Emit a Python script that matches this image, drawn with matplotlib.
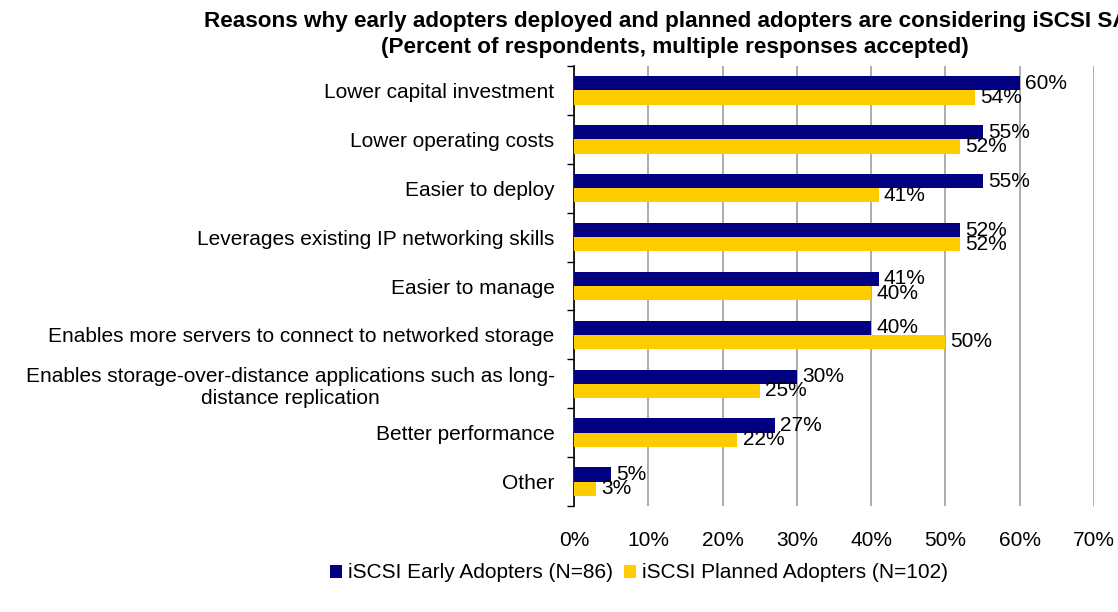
import matplotlib
matplotlib.use("Agg")
import matplotlib.pyplot as plt
import numpy as np
from matplotlib.patches import Patch

categories = [
    "Lower capital investment",
    "Lower operating costs",
    "Easier to deploy",
    "Leverages existing IP networking skills",
    "Easier to manage",
    "Enables more servers to connect to networked storage",
    "Enables storage-over-distance applications such as long-\ndistance replication",
    "Better performance",
    "Other",
]
early = [60, 55, 55, 52, 41, 40, 30, 27, 5]
planned = [54, 52, 41, 52, 40, 50, 25, 22, 3]
series_names = ["iSCSI Early Adopters (N=86)", "iSCSI Planned Adopters (N=102)"]
xticks = [0, 10, 20, 30, 40, 50, 60, 70]

NAVY = "#000080"
GOLD = "#FFCC00"
FS = 15

plt.rcParams["font.family"] = ["Liberation Sans", "DejaVu Sans"]

fig = plt.figure(figsize=(11.18, 6.12), dpi=100)
W, H = 1118, 612
ax = fig.add_axes([574 / W, 1 - 506 / H, (1094 - 574) / W, (506 - 66) / H])

y = np.arange(len(categories))
bh = 0.29
ax.barh(y - bh / 2, early, height=bh, color=NAVY, zorder=3)
ax.barh(y + bh / 2, planned, height=bh, color=GOLD, zorder=3)

# value labels just past the end of each bar
for i in range(len(categories)):
    ax.text(early[i] + 0.7, y[i] - bh / 2, f"{early[i]}%", va="center", ha="left",
            fontsize=FS, zorder=4)
    ax.text(planned[i] + 0.7, y[i] + bh / 2, f"{planned[i]}%", va="center", ha="left",
            fontsize=FS, zorder=4)

ax.set_xlim(0, 70)
ax.set_ylim(len(categories) - 0.5, -0.5)
ax.set_xticks(xticks)
ax.set_xticklabels([f"{t}%" for t in xticks], fontsize=FS)
ax.tick_params(axis="x", length=0, pad=18)
ax.xaxis.grid(True, color="#a0a0a0", linewidth=1.2, zorder=0)

ax.set_yticks(y)
ax.set_yticklabels(categories, fontsize=FS, multialignment="center")
ax.tick_params(axis="y", length=0, pad=14)
# category separators as outward ticks on the left axis
ax.set_yticks(np.arange(len(categories) + 1) - 0.5, minor=True)
ax.tick_params(axis="y", which="minor", length=5, width=1, direction="out")

for s in ["top", "right", "bottom"]:
    ax.spines[s].set_visible(False)
ax.spines["left"].set_color("black")
ax.spines["left"].set_linewidth(1.2)

fig.text(681 / W, 1 - 22 / H,
         "Reasons why early adopters deployed and planned adopters are considering iSCSI SANs",
         ha="center", va="center", fontsize=16.2, fontweight="bold")
fig.text(675 / W, 1 - 48 / H, "(Percent of respondents, multiple responses accepted)",
         ha="center", va="center", fontsize=16.2, fontweight="bold")

handles = [Patch(facecolor=NAVY), Patch(facecolor=GOLD)]
fig.legend(handles, series_names, loc="center", bbox_to_anchor=(639 / W, 1 - 573 / H),
           ncol=2, frameon=False, fontsize=FS, handlelength=0.6, handleheight=0.6,
           handletextpad=0.3, columnspacing=0.5)

fig.savefig("out.png", dpi=100)
